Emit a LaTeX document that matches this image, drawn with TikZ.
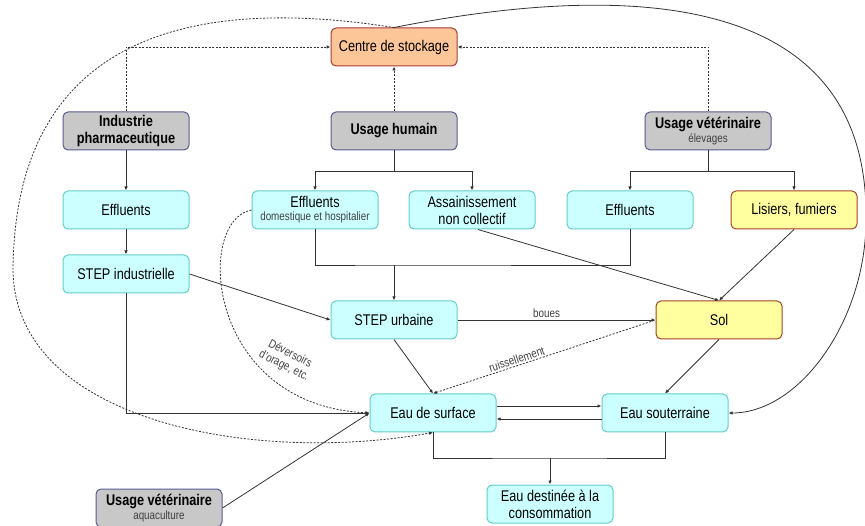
\documentclass[tikz,border=0pt]{standalone}
\usepackage{fontspec}
\setmainfont{Liberation Sans}[FakeStretch=0.82]
\usetikzlibrary{arrows.meta}

\definecolor{stockfill}{RGB}{252,198,152}
\definecolor{stockline}{RGB}{165,60,55}
\definecolor{usefill}{RGB}{200,200,200}
\definecolor{useline}{RGB}{90,90,145}
\definecolor{eaufill}{RGB}{204,255,255}
\definecolor{eauline}{RGB}{100,205,200}
\definecolor{solfill}{RGB}{255,255,160}
\definecolor{solline}{RGB}{165,65,35}
\definecolor{flow}{RGB}{50,50,50}
\newcommand{\subtxt}{\fontsize{12}{13.5}\selectfont\mdseries\color{black!75}}

\begin{document}
\begin{tikzpicture}[x=1pt, y=-1pt,
  >={Latex[length=4pt,width=3.5pt]},
  box/.style={draw, line width=1pt, rounded corners=5pt, minimum width=126pt,
              minimum height=38pt, align=center, inner sep=2pt,
              font=\fontsize{15.5}{17}\selectfont},
  stock/.style={box, fill=stockfill, draw=stockline},
  usage/.style={box, fill=usefill, draw=useline,
                font=\fontsize{15.5}{17}\selectfont\bfseries},
  eau/.style={box, fill=eaufill, draw=eauline},
  sol/.style={box, fill=solfill, draw=solline},
  trait/.style={draw=flow, line width=0.8pt},
  flux/.style={trait, ->},
  pointille/.style={flux, dash pattern=on 2pt off 1.5pt},
  lbl/.style={font=\subtxt, inner sep=1.5pt}
]
  \useasboundingbox (0,0) rectangle (865,526);

  \node[stock] (stock)  at (394,47)  {Centre de stockage};
  \node[usage] (indus)  at (126,131) {Industrie\\pharmaceutique};
  \node[usage] (humain) at (394,131) {Usage humain};
  \node[usage] (veto)   at (708,131) {Usage vétérinaire\\[-3pt]{\subtxt élevages}};

  \node[eau] (effind) at (126,210) {Effluents};
  \node[eau] (effdom) at (315,210) {Effluents\\[-4pt]{\subtxt domestique et hospitalier}};
  \node[eau] (anc)    at (472,210) {Assainissement\\non collectif};
  \node[eau] (effvet) at (630,210) {Effluents};
  \node[sol] (lisier) at (794,210) {Lisiers, fumiers};

  \node[eau] (stepi) at (126,274) {STEP industrielle};
  \node[eau] (stepu) at (394,320) {STEP urbaine};
  \node[sol] (sol)   at (719,320) {Sol};

  \node[eau] (surf)  at (433,413) {Eau de surface};
  \node[eau] (sout)  at (665,413) {Eau souterraine};
  \node[eau] (conso) at (550,504) {Eau destinée à la\\consommation};
  \node[usage] (aqua) at (159,508) {Usage vétérinaire\\[-3pt]{\subtxt aquaculture}};

  % vers le centre de stockage
  \draw[pointille] (indus.north) |- (stock.west);
  \draw[pointille] (humain.north) -- (stock.south);
  \draw[pointille] (veto.north) |- (stock.east);

  % usages
  \coordinate (hsplit) at (394,171);
  \coordinate (vsplit) at (708,171);
  \draw[trait] (humain.south) -- (hsplit);
  \draw[flux] (hsplit) -| (effdom.north);
  \draw[flux] (hsplit) -| (anc.north);
  \draw[trait] (veto.south) -- (vsplit);
  \draw[flux] (vsplit) -| (effvet.north);
  \draw[flux] (vsplit) -| (lisier.north);
  \draw[flux] (indus) -- (effind);
  \draw[flux] (effind) -- (stepi);

  % collecte et traitement
  \coordinate (collecte) at (394,265);
  \draw[trait] (effdom.south) |- (collecte) -| (effvet.south);
  \draw[flux] (collecte) -- (stepu);
  \draw[flux] ([xshift=6pt]anc.south) -- (sol.north);
  \draw[flux] (lisier.south) -- (sol.north);
  \draw[flux] (stepi.east) -- (stepu.west);
  \draw[flux] (stepi.south) |- (surf.west);
  \draw[flux] (aqua.east) -- (surf.west);
  \draw[flux] (stepu.south) -- (surf.north);
  \draw[flux] (stepu.east) -- node[lbl, above, pos=0.45] {boues} (sol.west);
  \draw[pointille, <-] (surf.north) -- node[lbl, above, sloped, pos=0.385] {ruissellement} (sol.west);
  \draw[flux] (sol.south) -- (sout.north);

  % eaux
  \draw[flux] ([yshift=7pt]surf.east) -- ([yshift=7pt]sout.west);
  \draw[flux] ([yshift=-6pt]sout.west) -- ([yshift=-6pt]surf.east);
  \coordinate (prise) at (550,458);
  \draw[trait] (surf.south) |- (prise) -| (sout.south);
  \draw[flux] (prise) -- (conso);

  % deversoirs d'orage
  \draw[pointille] (effdom.west) .. controls (195,220) and (205,405) .. (surf.west);
  \node[lbl, rotate=-27, align=center] (deversoir) at (287,360) {Déversoirs\\d'orage, etc.};

  % centre de stockage vers les eaux
  \draw[pointille] (stock.north) .. controls (250,5) and (15,0) .. (13,270)
    .. controls (15,420) and (250,465) .. (surf.south);
  \draw[flux] (stock.north) .. controls (560,-5) and (870,-40) .. (866,220)
    .. controls (866,320) and (800,413) .. (sout.east);
\end{tikzpicture}
\end{document}
